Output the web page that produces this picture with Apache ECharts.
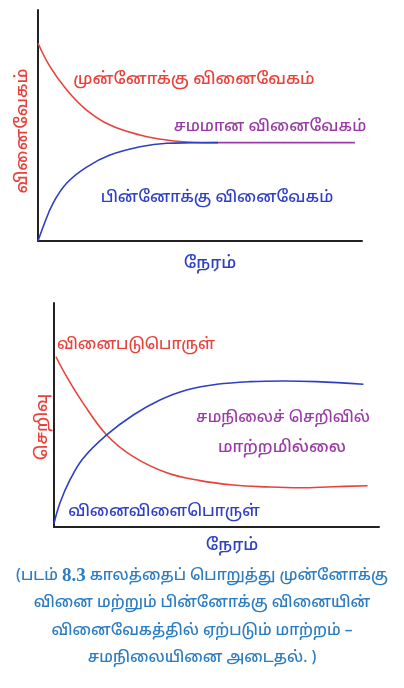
<!DOCTYPE html>
<html><head><meta charset="utf-8">
<script src="https://cdn.jsdelivr.net/npm/echarts@6/dist/echarts.min.js"></script>
<style>html,body{margin:0;padding:0;background:#fff}#c{width:404px;height:688px}</style>
</head><body><div id="c"></div>
<script>
// Top chart: reaction rate vs time
const forwardRate = [[0,85.6],[3.7,75.5],[8.9,65.4],[15,56.7],[22.2,50.2],[31.5,45.9],[39.7,43.7],[47.8,42.7],[55.6,42.6]];
const backwardRate = [[0,0],[1.6,6.2],[4.7,16.5],[8.9,25.1],[15,32.0],[22.2,37.2],[31.5,40.8],[39.7,42.3],[47.8,42.5],[55.6,42.6]];
const equilibriumRate = [[55.6,42.6],[97.8,42.6]];
// Bottom chart: concentration vs time
const reactant = [[0.6,76.0],[3.9,67.1],[9.0,55.2],[16.2,41.1],[24.4,31.4],[34.7,24.2],[44.9,20.7],[55.2,18.75],[65.4,17.9],[75.7,17.5],[85.9,18.0],[96.5,18.4]];
const product = [[0,1.5],[1.8,10.6],[4.9,21.0],[9.0,30.7],[16.2,41.1],[24.4,50.0],[32.6,56.7],[40.8,61.2],[50.1,63.7],[60.3,64.9],[70.6,65.2],[80.8,64.9],[95.2,63.7]];

const RED='#e8423c', BLUE='#2f3fc4', PURPLE='#9a3aa6', CAP='#2b7cc0';
const FONT='"Noto Sans", "Noto Sans Tamil", sans-serif';
const axisLine={show:true,lineStyle:{color:'#222',width:2}};
function xa(i){return {type:'value',gridIndex:i,min:0,max:100,axisLine:axisLine,axisTick:{show:false},axisLabel:{show:false},splitLine:{show:false}};}
function ya(i){return {type:'value',gridIndex:i,min:0,max:100,axisLine:axisLine,axisTick:{show:false},axisLabel:{show:false},splitLine:{show:false}};}
function ln(data,color,gi,smooth){return {type:'line',xAxisIndex:gi,yAxisIndex:gi,data:data,smooth:smooth,symbol:'none',lineStyle:{color:color,width:1.6},silent:true};}
function txt(x,y,s,color,size,rot){return {type:'text',x:x,y:y,rotation:rot||0,style:{text:s,fill:color,font:'500 '+(size||17)+'px '+FONT,textAlign:'center',textVerticalAlign:'middle'}};}

const chart=echarts.init(document.getElementById('c'),null,{renderer:'canvas'});
chart.setOption({
  animation:false,
  grid:[{left:38,top:10,width:324,height:231},{left:54,top:303,width:325,height:224}],
  xAxis:[xa(0),xa(1)],
  yAxis:[ya(0),ya(1)],
  series:[
    ln(forwardRate,RED,0,0.4),
    ln(backwardRate,BLUE,0,0.4),
    ln(equilibriumRate,PURPLE,0,false),
    ln(reactant,RED,1,0.4),
    ln(product,BLUE,1,0.4)
  ],
  graphic:[
    txt(194,79,'முன்னோக்கு வினைவேகம்',RED,16.5),
    txt(270,126,'சமமான வினைவேகம்',PURPLE,16),
    txt(217,197,'பின்னோக்கு வினைவேகம்',BLUE,16),
    txt(22,131,'வினைவேகம்',RED,17,Math.PI/2),
    txt(210,263,'நேரம்',BLUE,17),
    txt(136,345,'வினைபடுபொருள்',RED,15.5),
    txt(283,418,'சமநிலைச் செறிவில்',PURPLE,15.5),
    txt(282,447,'மாற்றமில்லை',PURPLE,16.5),
    txt(164,511,'வினைவிளைபொருள்',BLUE,16),
    txt(42,427,'செறிவு',RED,17,Math.PI/2),
    txt(232,545,'நேரம்',BLUE,17),
    {type:'text',x:202,y:576,style:{text:'(படம் {b|8.3} காலத்தைப் பொறுத்து முன்னோக்கு',fill:CAP,font:'500 15.5px '+FONT,textAlign:'center',textVerticalAlign:'middle',rich:{b:{fontFamily:'"Liberation Serif", serif',fontWeight:'bold',fontSize:19,fill:CAP}}}},
    txt(202,603,'வினை மற்றும் பின்னோக்கு வினையின்',CAP,15.5),
    txt(202,631,'வினைவேகத்தில் ஏற்படும் மாற்றம் –',CAP,15.5),
    txt(202,658,'சமநிலையினை அடைதல். )',CAP,15.5)
  ]
});
</script></body></html>
